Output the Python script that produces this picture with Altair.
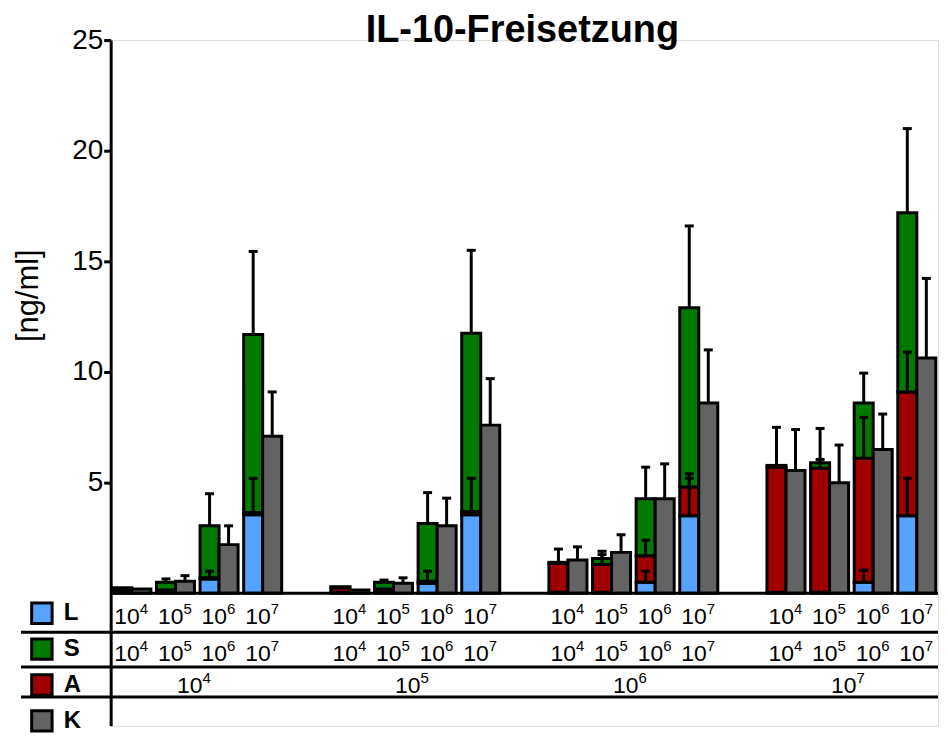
import altair as alt
import pandas as pd

# ---------------- data ----------------
# 16 positions: A-dose group (10^4..10^7) x S/L-dose (10^4..10^7)
exps = ["4", "5", "6", "7"]

L_seg = [0.05, 0.05, 0.65, 3.55, 0.05, 0.05, 0.45, 3.55, 0.05, 0.05, 0.50, 3.50, 0.05, 0.05, 0.50, 3.50]
L_sd = [0, 0, 0.35, 1.65, 0, 0, 0.55, 1.65, 0, 0, 0.50, 1.70, 0, 0, 0.55, 1.70]
A_seg = [0.10, 0.10, 0.05, 0.10, 0.20, 0.15, 0.10, 0.15, 1.30, 1.25, 1.20, 1.30, 5.65, 5.60, 5.60, 5.60]
A_sd = [0, 0, 0, 0, 0, 0, 0, 0, 0.65, 0.45, 0.70, 0.60, 1.80, 0.40, 1.85, 1.80]
S_seg = [0.10, 0.35, 2.35, 8.05, 0.05, 0.30, 2.60, 8.05, 0.05, 0.27, 2.57, 8.10, 0.08, 0.25, 2.50, 8.10]
S_sd = [0, 0.15, 1.45, 3.75, 0, 0.10, 1.40, 3.75, 0, 0.33, 1.43, 3.70, 0, 1.55, 1.35, 3.80]
K_val = [0.20, 0.55, 2.20, 7.10, 0.15, 0.45, 3.05, 7.60, 1.50, 1.85, 4.27, 8.60, 5.55, 5.00, 6.50, 10.63]
K_sd = [0, 0.25, 0.85, 2.00, 0, 0.25, 1.25, 2.10, 0.60, 0.80, 1.58, 2.40, 1.85, 1.70, 1.60, 3.60]

series_names = ["L", "S", "A", "K"]
series_colors = ["#55A3FF", "#007A00", "#A00000", "#636363"]
title_text = "IL-10-Freisetzung"

# ---------------- build tables ----------------
slot_domain = []
for g in range(4):
    for s in range(4):
        slot_domain.append(f"{g+1}-{s+1}")
    if g < 3:
        slot_domain.append(f"gap{g+1}")

rows = []
for g in range(4):
    for s in range(4):
        i = g * 4 + s
        slot = f"{g+1}-{s+1}"
        l1 = L_seg[i]
        a1 = l1 + A_seg[i]
        s1 = a1 + S_seg[i]
        rows.append(dict(slot=slot, bar="mix", series="L", y0=0.0, y1=l1, sd=L_sd[i], ord=0))
        rows.append(dict(slot=slot, bar="mix", series="A", y0=l1, y1=a1, sd=A_sd[i], ord=1))
        rows.append(dict(slot=slot, bar="mix", series="S", y0=a1, y1=s1, sd=S_sd[i], ord=2))
        rows.append(dict(slot=slot, bar="K", series="K", y0=0.0, y1=K_val[i], sd=K_sd[i], ord=3))
df = pd.DataFrame(rows)
df["top"] = df["y1"] + df["sd"]
err = df[df["sd"] > 0].copy()

lab_rows = []
for g in range(4):
    for s in range(4):
        lab_rows.append(dict(slot=f"{g+1}-{s+1}", base="10", exp=exps[s]))
labs = pd.DataFrame(lab_rows)
a_labs = pd.DataFrame([dict(slot=f"{g+1}-2", base="10", exp=exps[g]) for g in range(4)])

# ---------------- chart ----------------
W = 830
H = 688
FONT = "Liberation Sans"

x_scale = alt.Scale(domain=slot_domain, paddingInner=0.128, paddingOuter=0.05)
xo_scale = alt.Scale(domain=["mix", "K"], paddingInner=0, paddingOuter=0)
y_scale = alt.Scale(domain=[-5.99, 25], nice=False, zero=False)
y_axis = alt.Axis(values=[5, 10, 15, 20, 25], title="[ng/ml]", grid=False,
                  labelFontSize=28, labelFont=FONT, labelColor="black",
                  labelPadding=1, tickSize=7, tickWidth=3, tickColor="black",
                  domainWidth=3, domainColor="black",
                  titleFontSize=31, titleFont=FONT, titleFontWeight="normal",
                  titleColor="black", titleX=-82, titleY=256,
                  titleBaseline="middle")

X = alt.X("slot:N", scale=x_scale, axis=None)
XO = alt.XOffset("bar:N", scale=xo_scale)

bars = alt.Chart(df).mark_bar(stroke="black", strokeWidth=3, opacity=1).encode(
    x=X, xOffset=XO,
    y=alt.Y("y0:Q", scale=y_scale, axis=y_axis),
    y2="y1:Q",
    color=alt.Color("series:N",
                    scale=alt.Scale(domain=series_names, range=series_colors),
                    legend=alt.Legend(orient="none", legendX=-81, legendY=563,
                                      title=None, symbolType="square",
                                      symbolSize=420, symbolStrokeColor="black",
                                      symbolStrokeWidth=3, symbolOpacity=1,
                                      labelFontSize=24, labelFont=FONT,
                                      labelFontWeight="bold", labelColor="black",
                                      rowPadding=2, labelOffset=10, padding=0)),
    order=alt.Order("ord:Q"),
)

err_rules = alt.Chart(err).mark_rule(strokeWidth=3, color="black").encode(
    x=X, xOffset=XO,
    y=alt.Y("y1:Q", scale=y_scale, axis=y_axis),
    y2="top:Q",
)
err_caps = alt.Chart(err).mark_tick(thickness=3, size=9, color="black", opacity=1).encode(
    x=X, xOffset=XO,
    y=alt.Y("top:Q", scale=y_scale, axis=y_axis),
)

one = pd.DataFrame({"z": [0]})
baseline = alt.Chart(one).mark_rule(strokeWidth=3, color="black").encode(
    y=alt.datum(0), x=alt.value(0), x2=alt.value(W)
)

title = alt.Chart(pd.DataFrame({"t": [title_text]})).mark_text(
    font=FONT, fontSize=38, fontWeight="bold", align="center",
    baseline="alphabetic", color="black"
).encode(x=alt.value(W / 2 - 2), y=alt.value(2), text="t:N")

layers = [bars, err_rules, err_caps, baseline, title]

for ypix in [594, 629, 659]:
    layers.append(
        alt.Chart(one).mark_rule(strokeWidth=3, color="black").encode(
            y=alt.value(ypix), x=alt.value(-90), x2=alt.value(W)
        )
    )

def label_layers(data, ybase, xenc):
    base = alt.Chart(data).mark_text(font=FONT, fontSize=23, align="right",
                                     baseline="alphabetic", dx=8, color="black").encode(
        x=xenc, y=alt.value(ybase), text="base:N")
    sup = alt.Chart(data).mark_text(font=FONT, fontSize=15, align="left",
                                    baseline="alphabetic", dx=8, dy=-10, color="black").encode(
        x=xenc, y=alt.value(ybase), text="exp:N")
    return [base, sup]

layers += label_layers(labs, 586, X)
layers += label_layers(labs, 623, X)
layers += label_layers(a_labs, 655, alt.X("slot:N", scale=x_scale, axis=None, bandPosition=1))

chart = alt.layer(*layers).properties(
    width=W, height=H,
    padding={"left": 5, "top": 3, "right": 0, "bottom": 0},
).configure_view(stroke=None).configure(background="white")

chart.save("out.html", embed_options={"renderer": "svg", "actions": False})
